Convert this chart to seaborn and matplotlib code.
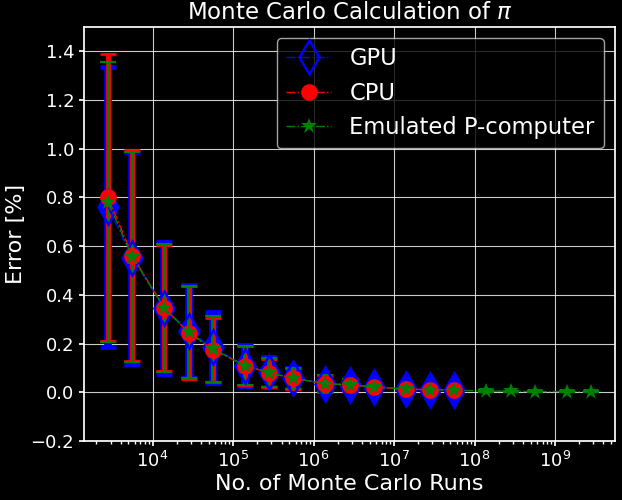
import matplotlib
matplotlib.use("Agg")
import matplotlib.pyplot as plt
import seaborn as sns

# Monte Carlo runs (x) for each implementation
runs_gpu = [2.8e3, 5.6e3, 1.4e4, 2.8e4, 5.6e4, 1.4e5, 2.8e5, 5.6e5,
            1.4e6, 2.8e6, 5.6e6, 1.4e7, 2.8e7, 5.6e7]
runs_cpu = list(runs_gpu)
runs_pc = runs_gpu + [1.4e8, 2.8e8, 5.6e8, 1.4e9, 2.8e9]

# mean error [%] and its spread
err_gpu = [0.76, 0.551, 0.347, 0.25, 0.185, 0.11, 0.082, 0.057,
           0.036, 0.03, 0.022, 0.013, 0.011, 0.009]
std_gpu = [0.575, 0.434, 0.27, 0.19, 0.145, 0.083, 0.061, 0.043,
           0.032, 0.026, 0.014, 0.009, 0.007, 0.006]
err_cpu = [0.80, 0.561, 0.345, 0.245, 0.175, 0.11, 0.08, 0.057,
           0.036, 0.03, 0.022, 0.013, 0.011, 0.009]
std_cpu = [0.588, 0.432, 0.258, 0.19, 0.132, 0.082, 0.058, 0.042,
           0.034, 0.026, 0.014, 0.009, 0.007, 0.006]
err_pc = [0.78, 0.556, 0.346, 0.247, 0.178, 0.11, 0.081, 0.057,
          0.036, 0.03, 0.022, 0.013, 0.011, 0.009,
          0.005, 0.004, 0.003, 0.003, 0.002]
std_pc = [0.575, 0.43, 0.262, 0.188, 0.135, 0.082, 0.059, 0.042,
          0.033, 0.026, 0.014, 0.009, 0.007, 0.006,
          0.004, 0.003, 0.002, 0.002, 0.0015]

sns.set_theme(style="ticks", rc={
    "figure.facecolor": "black",
    "axes.facecolor": "black",
    "savefig.facecolor": "black",
    "axes.edgecolor": "white",
    "axes.labelcolor": "white",
    "text.color": "white",
    "xtick.color": "white",
    "ytick.color": "white",
    "grid.color": "white",
    "axes.grid": True,
    "grid.linewidth": 0.8,
    "grid.alpha": 0.8,
    "legend.edgecolor": "0.8",
    "legend.facecolor": "black",
})
plt.rcParams["font.family"] = ["DejaVu Sans"]

fig, ax = plt.subplots(figsize=(6.22, 5.0), dpi=100)

# label, x, y, spread, colour, marker kwargs, errorbar marker, elinewidth, capthick
series = [
    ("GPU", runs_gpu, err_gpu, std_gpu, "blue",
     dict(marker="d", markersize=17, markerfacecolor="none", markeredgewidth=1.8),
     "d", 5.5, 3.5),
    ("CPU", runs_cpu, err_cpu, std_cpu, "red",
     dict(marker="o", markersize=12, markeredgewidth=0),
     "none", 3.5, 2.0),
    ("Emulated P-computer", runs_pc, err_pc, std_pc, "green",
     dict(marker="*", markersize=12, markeredgewidth=0),
     "none", 1.5, 1.5),
]

for i, (label, x, y, s, color, mk, efmt, elw, cth) in enumerate(series):
    ax.errorbar(x, y, yerr=s, fmt=efmt, color=color, ecolor=color,
                markersize=17, elinewidth=elw,
                capsize=5.5, capthick=cth, zorder=2 + i * 0.1)

for i, (label, x, y, s, color, mk, efmt, elw, cth) in enumerate(series):
    sns.lineplot(x=x, y=y, ax=ax, color=color, linestyle="-.", linewidth=1,
                 markeredgecolor=color, label=label, zorder=3 + i * 0.1, **mk)

ax.set_xscale("log")
ax.set_ylim(-0.2, 1.5)
ax.set_yticks([-0.2, 0.0, 0.2, 0.4, 0.6, 0.8, 1.0, 1.2, 1.4])
ax.tick_params(which="major", labelsize=13, colors="white", length=3.5, pad=3.5)
ax.tick_params(which="minor", colors="white", length=2)
ax.set_xlabel("No. of Monte Carlo Runs", fontsize=16, labelpad=2)
ax.set_ylabel("Error [%]", fontsize=16, labelpad=3)
ax.set_title(r"Monte Carlo Calculation of $\pi$", fontsize=16.5)
ax.grid(True, which="major")
ax.legend(loc="upper right", fontsize=16.3, framealpha=0.8)

fig.subplots_adjust(left=0.135, right=0.989, bottom=0.118, top=0.946)
fig.savefig("out.png", dpi=100)
